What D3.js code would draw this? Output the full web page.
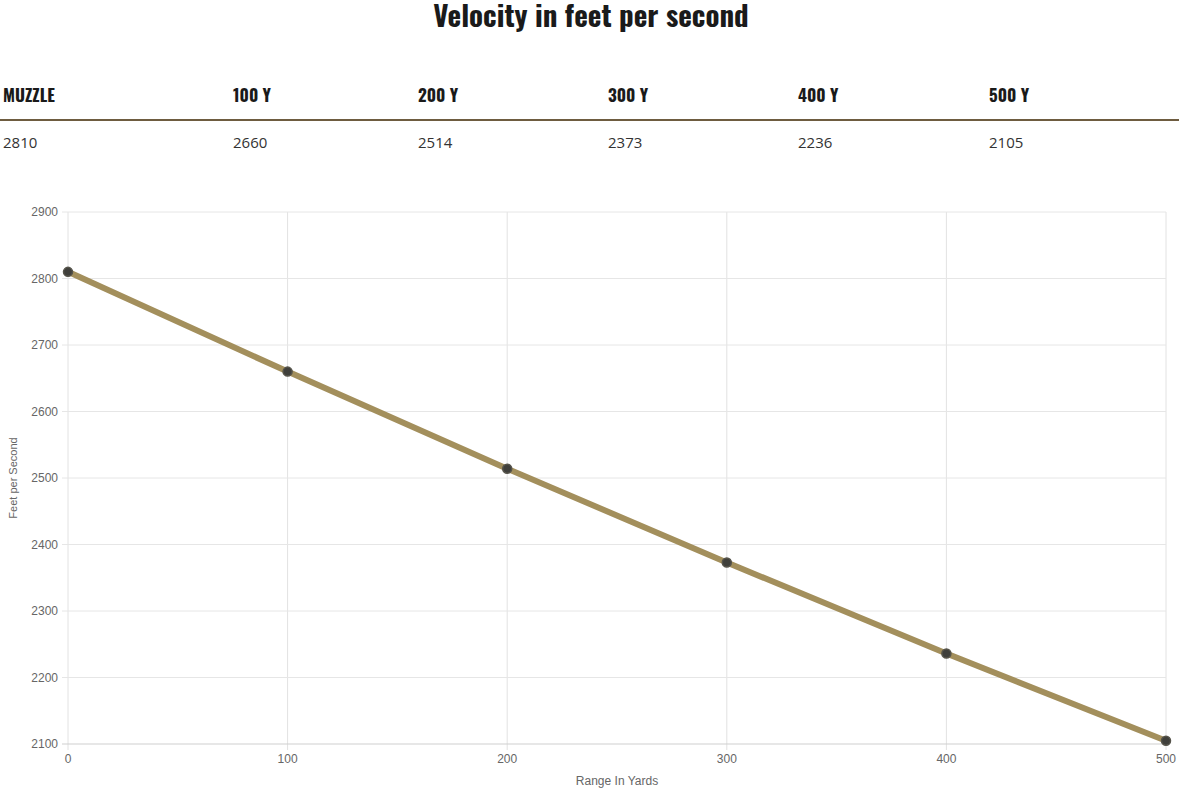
<!DOCTYPE html>
<html><head><meta charset="utf-8">
<script src="https://cdn.jsdelivr.net/npm/d3@7"></script>
<style>
body{margin:0;background:#fff;}
.cond{font-family:Oswald,"Liberation Sans Narrow","DejaVu Sans Condensed",sans-serif;font-weight:bold;font-stretch:condensed;}
</style></head>
<body><svg id="chart" width="1182" height="791"></svg>
<script>
var headers = ["MUZZLE", "100 Y", "200 Y", "300 Y", "400 Y", "500 Y"];
var ranges = [0, 100, 200, 300, 400, 500];
var velocity = [2810, 2660, 2514, 2373, 2236, 2105];
var yTicks = [2100, 2200, 2300, 2400, 2500, 2600, 2700, 2800, 2900];

var svg = d3.select("#chart");

// title
svg.append("text").attr("class", "cond").attr("x", 591).attr("y", 27)
  .attr("text-anchor", "middle").attr("font-size", 29).attr("fill", "#1a1a1a")
  .text("Velocity in feet per second");

// table
var colX = [3, 233, 418, 608, 798, 989];
headers.forEach(function(h, i) {
  svg.append("text").attr("class", "cond").attr("x", colX[i]).attr("y", 102)
    .attr("font-size", 17).attr("fill", "#1a1a1a").text(h);
  svg.append("text").attr("x", colX[i]).attr("y", 148)
    .attr("font-family", "'Open Sans', sans-serif").attr("font-size", 15)
    .attr("fill", "#333").text(velocity[i]);
});
svg.append("line").attr("x1", 0).attr("x2", 1179).attr("y1", 120).attr("y2", 120)
  .attr("stroke", "#6e5c40").attr("stroke-width", 2);

// chart
var x = d3.scaleLinear().domain([0, 500]).range([68, 1166]);
var y = d3.scaleLinear().domain([2100, 2900]).range([744, 212]);

var g = svg.append("g");
g.selectAll(".vg").data(ranges).enter().append("line")
  .attr("x1", x).attr("x2", x).attr("y1", 212).attr("y2", 750)
  .attr("stroke", "#e2e2e2");
g.selectAll(".hg").data(yTicks).enter().append("line")
  .attr("x1", 62).attr("x2", 1166).attr("y1", y).attr("y2", y)
  .attr("stroke", function(d) { return d === 2100 ? "#cfcfcf" : "#e6e6e6"; });

g.selectAll(".yt").data(yTicks).enter().append("text")
  .attr("x", 58).attr("y", function(d) { return y(d) + 4; })
  .attr("text-anchor", "end").attr("font-family", "'Liberation Sans', Arial, sans-serif")
  .attr("font-size", 12).attr("fill", "#666").text(function(d) { return d; });
g.selectAll(".xt").data(ranges).enter().append("text")
  .attr("x", x).attr("y", 763)
  .attr("text-anchor", "middle").attr("font-family", "'Liberation Sans', Arial, sans-serif")
  .attr("font-size", 12).attr("fill", "#666").text(function(d) { return d; });

svg.append("text").attr("x", 617).attr("y", 785).attr("text-anchor", "middle")
  .attr("font-family", "'Liberation Sans', Arial, sans-serif").attr("font-size", 12)
  .attr("fill", "#666").text("Range In Yards");
svg.append("text").attr("transform", "translate(17,478) rotate(-90)").attr("text-anchor", "middle")
  .attr("font-family", "'Liberation Sans', Arial, sans-serif").attr("font-size", 11)
  .attr("fill", "#666").text("Feet per Second");

var pts = ranges.map(function(r, i) { return [r, velocity[i]]; });
g.append("path").datum(pts)
  .attr("d", d3.line().x(function(d) { return x(d[0]); }).y(function(d) { return y(d[1]); }))
  .attr("fill", "none").attr("stroke", "#a38f5c").attr("stroke-width", 6);
g.selectAll(".pt").data(pts).enter().append("circle")
  .attr("cx", function(d) { return x(d[0]); }).attr("cy", function(d) { return y(d[1]); })
  .attr("r", 4.5).attr("fill", "#3f3f3b").attr("stroke", "#55534a").attr("stroke-width", 1.5);
</script></body></html>
